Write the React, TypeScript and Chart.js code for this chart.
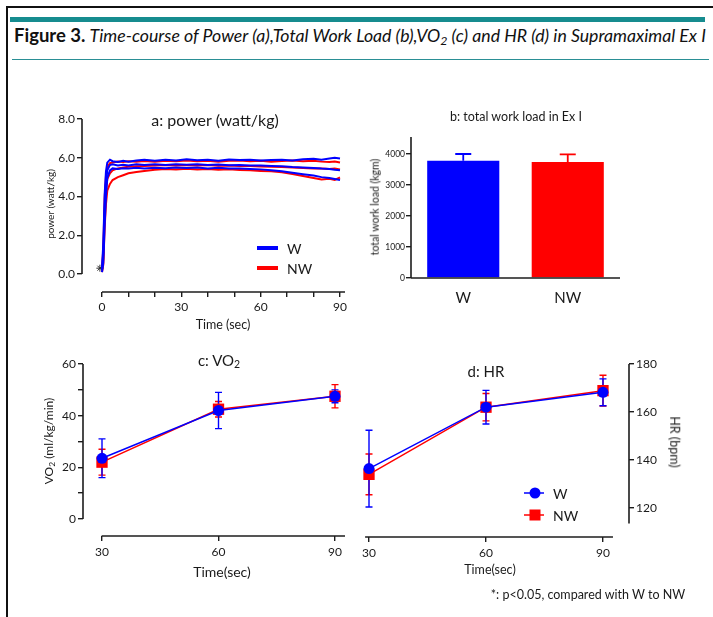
import React, { useEffect, useRef } from "react";
import { Chart, registerables } from "chart.js";
Chart.register(...registerables);

// ---------- DATA ----------
// Panel a: power time course (watt/kg)
const powerTime = [0, 0.5, 1, 1.5, 2, 3, 4, 6, 8, 10, 13, 16, 20, 24, 28, 32, 36, 40, 44, 48, 52, 56, 60, 64, 68, 72, 76, 80, 83, 86, 88, 90];
const wPowerUpper = [0.3, 1.6, 4.1, 5.3, 5.75, 5.9, 5.82, 5.78, 5.85, 5.8, 5.86, 5.9, 5.84, 5.9, 5.86, 5.92, 5.87, 5.9, 5.85, 5.91, 5.88, 5.9, 5.86, 5.88, 5.9, 5.86, 5.92, 5.95, 5.9, 5.96, 6.0, 5.96];
const wPowerMean = [0.2, 1.1, 3.3, 4.7, 5.35, 5.62, 5.66, 5.6, 5.64, 5.6, 5.66, 5.62, 5.66, 5.63, 5.67, 5.64, 5.66, 5.62, 5.65, 5.61, 5.63, 5.6, 5.6, 5.58, 5.56, 5.52, 5.5, 5.47, 5.44, 5.42, 5.38, 5.35];
const wPowerLower = [0.1, 0.6, 2.5, 4.0, 4.95, 5.35, 5.45, 5.42, 5.46, 5.44, 5.48, 5.45, 5.49, 5.46, 5.5, 5.47, 5.5, 5.45, 5.48, 5.44, 5.45, 5.42, 5.4, 5.36, 5.3, 5.22, 5.15, 5.08, 5.0, 4.95, 4.9, 4.85];
const nwPowerUpper = [0.3, 1.3, 3.9, 5.05, 5.5, 5.72, 5.76, 5.8, 5.78, 5.82, 5.79, 5.83, 5.8, 5.84, 5.82, 5.86, 5.82, 5.85, 5.8, 5.84, 5.86, 5.82, 5.84, 5.8, 5.83, 5.86, 5.82, 5.85, 5.8, 5.78, 5.8, 5.75];
const nwPowerMean = [0.2, 0.8, 3.0, 4.3, 4.9, 5.2, 5.35, 5.45, 5.5, 5.53, 5.56, 5.58, 5.6, 5.62, 5.6, 5.63, 5.6, 5.62, 5.59, 5.6, 5.58, 5.57, 5.55, 5.54, 5.52, 5.5, 5.47, 5.45, 5.44, 5.42, 5.45, 5.4];
const nwPowerLower = [0.1, 0.5, 2.4, 3.6, 4.3, 4.65, 4.85, 5.0, 5.1, 5.2, 5.26, 5.32, 5.38, 5.42, 5.4, 5.43, 5.4, 5.42, 5.38, 5.4, 5.37, 5.35, 5.32, 5.3, 5.25, 5.16, 5.06, 4.96, 4.88, 4.92, 4.86, 4.98];
const starMarks = [{ x: -0.8, y: 0.3 }];
const powerXTicks = [0, 10, 20, 30, 40, 50, 60, 70, 80, 90];
const powerXLabels = [0, 30, 60, 90];
const powerYTicks = [0, 2, 4, 6, 8];

// Panel b: total work load (kgm)
const groups = ["W", "NW"];
const workLoadMean = [3780, 3740];
const workLoadSD = [220, 250];
const workYTicks = [0, 1000, 2000, 3000, 4000];

// Panels c, d
const stageTimes = [30, 60, 90];
const vo2W = [23.5, 42, 47.5];
const vo2WSD = [7.5, 7, 2.5];
const vo2NW = [22, 42.5, 47.5];
const vo2NWSD = [5, 3, 4.5];
const vo2YTicks = [0, 10, 20, 30, 40, 50, 60];
const vo2YLabels = [0, 20, 40, 60];
const hrW = [136.4, 162, 168.2];
const hrWSD = [16, 7, 5.6];
const hrNW = [134, 162, 168.9];
const hrNWSD = [8.5, 5.7, 6.4];
const hrYTicks = [120, 140, 160, 180];

// ---------- STYLE ----------
const BLUE = "#0000ff";
const RED = "#ff0000";
const AXIS = "#1c1c1c";
const FONT = "Lato, 'Open Sans', 'DejaVu Sans', sans-serif";
Chart.defaults.font.family = FONT;

// ---------- PLUGINS ----------
function gpAxes(cfg: { yFrom: number; yTo: number; xFrom?: number; xTo?: number; yRight?: boolean }) {
  return {
    id: "gpAxes",
    afterDatasetsDraw(chart: any) {
      const { ctx, chartArea } = chart;
      const xs = chart.scales.x;
      const ys = chart.scales.y;
      ctx.save();
      ctx.strokeStyle = AXIS;
      ctx.lineWidth = 1.6;
      const yx = cfg.yRight ? chartArea.right : chartArea.left;
      ctx.beginPath();
      ctx.moveTo(yx, ys.getPixelForValue(cfg.yFrom));
      ctx.lineTo(yx, ys.getPixelForValue(cfg.yTo));
      ctx.stroke();
      const x0 = cfg.xFrom == null ? chartArea.left : xs.getPixelForValue(cfg.xFrom);
      const x1 = cfg.xTo == null ? chartArea.right : xs.getPixelForValue(cfg.xTo);
      ctx.beginPath();
      ctx.moveTo(x0, chartArea.bottom);
      ctx.lineTo(x1, chartArea.bottom);
      ctx.stroke();
      ctx.restore();
    },
  };
}

function drawErrors(chart: any, after: boolean) {
  const ctx = chart.ctx;
  const ys = chart.scales.y;
  const ds = chart.data.datasets;
  for (let i = ds.length - 1; i >= 0; i--) {
    const d: any = ds[i];
    if (!d.errorBars || !!d.errorAfter !== after) continue;
    const meta = chart.getDatasetMeta(i);
    meta.data.forEach((el: any, j: number) => {
      const raw = d.data[j];
      const v = typeof raw === "number" ? raw : raw.y;
      const sd = d.errorBars[j];
      const top = ys.getPixelForValue(v + sd);
      const bot = d.errorUpOnly ? ys.getPixelForValue(v) : ys.getPixelForValue(v - sd);
      const cap = d.errorCap;
      ctx.save();
      ctx.strokeStyle = d.errorColor;
      ctx.lineWidth = d.errorWidth;
      ctx.beginPath();
      ctx.moveTo(el.x, top);
      ctx.lineTo(el.x, bot);
      ctx.moveTo(el.x - cap, top);
      ctx.lineTo(el.x + cap, top);
      if (!d.errorUpOnly) {
        ctx.moveTo(el.x - cap, bot);
        ctx.lineTo(el.x + cap, bot);
      }
      ctx.stroke();
      ctx.restore();
    });
  }
}
const errorBarPlugin = {
  id: "errorBars",
  beforeDatasetsDraw(chart: any) {
    drawErrors(chart, false);
  },
  afterDatasetsDraw(chart: any) {
    drawErrors(chart, true);
  },
};

type LegendItem = { label: string; color: string; marker: "none" | "circle" | "square"; y: number };
function miniLegend(items: LegendItem[], x1: number, x2: number, tx: number, lineWidth: number, font: string) {
  return {
    id: "miniLegend",
    afterDraw(chart: any) {
      const ctx = chart.ctx;
      ctx.save();
      items.forEach((it) => {
        ctx.strokeStyle = it.color;
        ctx.fillStyle = it.color;
        ctx.lineWidth = lineWidth;
        ctx.beginPath();
        ctx.moveTo(x1, it.y);
        ctx.lineTo(x2, it.y);
        ctx.stroke();
        const cx = (x1 + x2) / 2 + 1;
        if (it.marker === "circle") {
          ctx.beginPath();
          ctx.arc(cx, it.y, 5.5, 0, Math.PI * 2);
          ctx.fill();
        } else if (it.marker === "square") {
          ctx.fillRect(cx - 5.5, it.y - 5.5, 11, 11);
        }
        ctx.fillStyle = "#1a1a1a";
        ctx.font = font;
        ctx.textBaseline = "middle";
        ctx.textAlign = "left";
        ctx.fillText(it.label, tx, it.y + 1);
      });
      ctx.restore();
    },
  };
}

const tickFont = (size: number) => ({ family: FONT, size });

function linearAxis(opts: {
  min: number;
  max: number;
  ticks: number[];
  labels: number[];
  fmt?: (v: number) => string;
  size: number;
  fontSize: number;
  horizontal: boolean;
  position?: string;
  padding?: number;
}) {
  const fmt = opts.fmt || ((v: number) => String(v));
  return {
    type: "linear",
    position: opts.position,
    min: opts.min,
    max: opts.max,
    afterBuildTicks: (s: any) => {
      s.ticks = opts.ticks.map((v) => ({ value: v }));
    },
    afterFit: (s: any) => {
      if (opts.horizontal) s.height = opts.size;
      else s.width = opts.size;
    },
    border: { display: false },
    grid: { drawOnChartArea: false, drawTicks: true, tickLength: 5, color: AXIS, lineWidth: 1.4 },
    ticks: {
      autoSkip: false,
      maxRotation: 0,
      padding: opts.padding ?? 2,
      color: "#1a1a1a",
      font: tickFont(opts.fontSize),
      callback: (v: any) => (opts.labels.includes(Number(v)) ? fmt(Number(v)) : ""),
    },
  };
}

// ---------- CHART CONFIGS ----------
const pts = (xs: number[], ys: number[]) => xs.map((x, i) => ({ x, y: ys[i] }));

function powerConfig(): any {
  const line = (data: number[], color: string) => ({
    data: pts(powerTime, data),
    borderColor: color,
    backgroundColor: color,
    borderWidth: 2,
    pointRadius: 0,
    tension: 0,
  });
  return {
    type: "line",
    data: {
      datasets: [
        line(wPowerUpper, BLUE),
        line(wPowerMean, BLUE),
        line(wPowerLower, BLUE),
        line(nwPowerUpper, RED),
        line(nwPowerMean, RED),
        line(nwPowerLower, RED),
        {
          data: starMarks,
          showLine: false,
          pointStyle: "star",
          pointRadius: 3.5,
          borderColor: "#333",
          borderWidth: 1,
          clip: false,
        },
      ],
    },
    options: {
      animation: false,
      responsive: false,
      layout: { padding: { left: 0, top: 19, right: 15, bottom: 0 } },
      plugins: { legend: { display: false }, tooltip: { enabled: false } },
      scales: {
        x: linearAxis({ min: -7.563, max: 91.89, ticks: powerXTicks, labels: powerXLabels, size: 43, fontSize: 12, horizontal: true, padding: 3 }),
        y: linearAxis({ min: -0.929, max: 8, ticks: powerYTicks, labels: powerYTicks, fmt: (v) => v.toFixed(1), size: 62, fontSize: 12, horizontal: false }),
      },
    },
    plugins: [
      gpAxes({ yFrom: 0, yTo: 8, xFrom: 0 }),
      miniLegend(
        [
          { label: "W", color: BLUE, marker: "none", y: 148 },
          { label: "NW", color: RED, marker: "none", y: 168 },
        ],
        237,
        258,
        267,
        4,
        `14px ${FONT}`
      ),
    ],
  };
}

function workConfig(): any {
  return {
    type: "bar",
    data: {
      labels: groups,
      datasets: [
        {
          data: workLoadMean,
          backgroundColor: [BLUE, RED],
          borderWidth: 0,
          barPercentage: 0.69,
          categoryPercentage: 1,
        },
      ],
    },
    options: {
      animation: false,
      responsive: false,
      layout: { padding: { left: 0, top: 37, right: 10, bottom: 0 } },
      plugins: { legend: { display: false }, tooltip: { enabled: false } },
      scales: {
        x: {
          type: "category",
          afterFit: (s: any) => {
            s.height = 37;
          },
          border: { display: false },
          grid: { display: false, drawTicks: false },
          ticks: { padding: 11, color: "#1a1a1a", font: tickFont(15) },
        },
        y: linearAxis({ min: 0, max: 4548, ticks: workYTicks, labels: workYTicks, size: 51, fontSize: 8.5, horizontal: false, padding: 1 }),
      },
    },
    plugins: [
      gpAxes({ yFrom: 0, yTo: 4548 }),
      {
        id: "barErr",
        afterDatasetsDraw(chart: any) {
          const ctx = chart.ctx;
          const ys = chart.scales.y;
          const meta = chart.getDatasetMeta(0);
          const colors = [BLUE, RED];
          meta.data.forEach((el: any, j: number) => {
            const top = ys.getPixelForValue(workLoadMean[j] + workLoadSD[j]);
            const base = ys.getPixelForValue(workLoadMean[j]);
            ctx.save();
            ctx.strokeStyle = colors[j];
            ctx.lineWidth = 1.8;
            ctx.beginPath();
            ctx.moveTo(el.x, base);
            ctx.lineTo(el.x, top);
            ctx.moveTo(el.x - 8, top);
            ctx.lineTo(el.x + 8, top);
            ctx.stroke();
            ctx.restore();
          });
        },
      },
    ],
  };
}

function stageDataset(values: number[], sd: number[], color: string, style: string, radius: number) {
  return {
    data: pts(stageTimes, values),
    borderColor: color,
    backgroundColor: color,
    borderWidth: 1.5,
    pointStyle: style,
    pointRadius: radius,
    pointBorderWidth: 0,
    tension: 0,
    errorBars: sd,
    errorColor: color,
    errorWidth: 1.4,
    errorCap: 3.5,
    clip: false,
  };
}

function vo2Config(): any {
  return {
    type: "line",
    data: {
      datasets: [stageDataset(vo2W, vo2WSD, BLUE, "circle", 5.5), stageDataset(vo2NW, vo2NWSD, RED, "rect", 8)],
    },
    options: {
      animation: false,
      responsive: false,
      layout: { padding: { left: 0, top: 19, right: 15, bottom: 0 } },
      plugins: { legend: { display: false }, tooltip: { enabled: false } },
      scales: {
        x: linearAxis({ min: 25.107, max: 92.575, ticks: stageTimes, labels: stageTimes, size: 49, fontSize: 12, horizontal: true, padding: 4 }),
        y: linearAxis({ min: -6.58, max: 60, ticks: vo2YTicks, labels: vo2YLabels, size: 63, fontSize: 12, horizontal: false }),
      },
    },
    plugins: [gpAxes({ yFrom: 0, yTo: 60, xFrom: 29.9 }), errorBarPlugin],
  };
}

function hrConfig(): any {
  return {
    type: "line",
    data: {
      datasets: [stageDataset(hrW, hrWSD, BLUE, "circle", 5.5), stageDataset(hrNW, hrNWSD, RED, "rect", 8)],
    },
    options: {
      animation: false,
      responsive: false,
      layout: { padding: { left: 20, top: 19, right: 0, bottom: 0 } },
      plugins: { legend: { display: false }, tooltip: { enabled: false } },
      scales: {
        x: linearAxis({ min: 28.974, max: 96.67, ticks: stageTimes, labels: stageTimes, size: 48, fontSize: 12, horizontal: true, padding: 4 }),
        y: linearAxis({ min: 107.9, max: 180, ticks: hrYTicks, labels: hrYTicks, size: 61, fontSize: 12, horizontal: false, position: "right" }),
      },
    },
    plugins: [
      gpAxes({ yFrom: 113.5, yTo: 180, xFrom: 29, xTo: 92.56, yRight: true }),
      errorBarPlugin,
      miniLegend(
        [
          { label: "W", color: BLUE, marker: "circle", y: 148 },
          { label: "NW", color: RED, marker: "square", y: 170 },
        ],
        179,
        199,
        208,
        1.5,
        `14px ${FONT}`
      ),
    ],
  };
}

// ---------- COMPONENTS ----------
function ChartBox(props: { left: number; top: number; width: number; height: number; make: () => any }) {
  const ref = useRef<HTMLCanvasElement | null>(null);
  useEffect(() => {
    if (!ref.current) return;
    const chart = new Chart(ref.current, props.make());
    return () => chart.destroy();
  }, []);
  return (
    <canvas
      ref={ref}
      width={props.width}
      height={props.height}
      style={{ position: "absolute", left: props.left, top: props.top, width: props.width, height: props.height }}
    />
  );
}

function Label(props: { x: number; y: number; size: number; rotate?: number; children: React.ReactNode; weight?: number }) {
  return (
    <div
      style={{
        position: "absolute",
        left: props.x,
        top: props.y,
        transform: `translate(-50%, -50%) rotate(${props.rotate || 0}deg)`,
        fontFamily: FONT,
        fontSize: props.size,
        fontWeight: props.weight || 400,
        color: "#1a1a1a",
        whiteSpace: "nowrap",
        lineHeight: 1,
      }}
    >
      {props.children}
    </div>
  );
}

const subStyle: React.CSSProperties = { fontSize: "0.7em", verticalAlign: "-0.25em", lineHeight: 0 };

export default function App() {
  return (
    <div style={{ position: "absolute", left: 0, top: 0, width: 713, height: 617, background: "#fff", overflow: "hidden" }}>
      {/* frame */}
      <div style={{ position: "absolute", left: 6, top: 6, width: 720, height: 620, borderTop: "2px solid #111", borderLeft: "2px solid #111" }} />
      <div style={{ position: "absolute", left: 10, top: 17, width: 695, height: 5, background: "#168c8f" }} />
      <div
        style={{
          position: "absolute",
          left: 14,
          top: 25,
          fontFamily: FONT,
          color: "#111",
          whiteSpace: "nowrap",
          lineHeight: 1.1,
        }}
      >
        <b style={{ fontSize: 18.5 }}>Figure 3.</b>{" "}
        <i style={{ fontSize: 17.7 }}>
          Time-course of Power (a),Total Work Load (b),VO<sub style={subStyle}>2</sub> (c) and HR (d) in Supramaximal Ex I
        </i>
      </div>
      <div style={{ position: "absolute", left: 12, top: 59, width: 697, height: 1, background: "#2a8f95" }} />

      <ChartBox left={20} top={100} width={340} height={235} make={powerConfig} />
      <ChartBox left={360} top={100} width={270} height={215} make={workConfig} />
      <ChartBox left={20} top={345} width={340} height={240} make={vo2Config} />
      <ChartBox left={345} top={345} width={345} height={240} make={hrConfig} />

      {/* panel a */}
      <Label x={215} y={120} size={16}>a: power (watt/kg)</Label>
      <Label x={50} y={204} size={10} rotate={-90}>power (watt/kg)</Label>
      <Label x={223} y={325} size={12.5}>Time (sec)</Label>

      {/* panel b */}
      <Label x={516} y={117} size={12.5}>b: total work load in Ex I</Label>
      <Label x={375} y={207} size={10.5} rotate={-90}>total work load (kgm)</Label>

      {/* panel c */}
      <Label x={219} y={360} size={15}>
        c: VO<sub style={subStyle}>2</sub>
      </Label>
      <Label x={49} y={441} size={12} rotate={-90}>
        VO<sub style={subStyle}>2</sub> (ml/kg/min)
      </Label>
      <Label x={222} y={572} size={14}>Time(sec)</Label>

      {/* panel d */}
      <Label x={486} y={371} size={15}>d: HR</Label>
      <Label x={674} y={442} size={12.5} rotate={90}>HR (bpm)</Label>
      <Label x={490} y={570} size={12.5}>Time(sec)</Label>

      <Label x={588} y={595} size={12.5}>*: p&lt;0.05, compared with W to NW</Label>
    </div>
  );
}
